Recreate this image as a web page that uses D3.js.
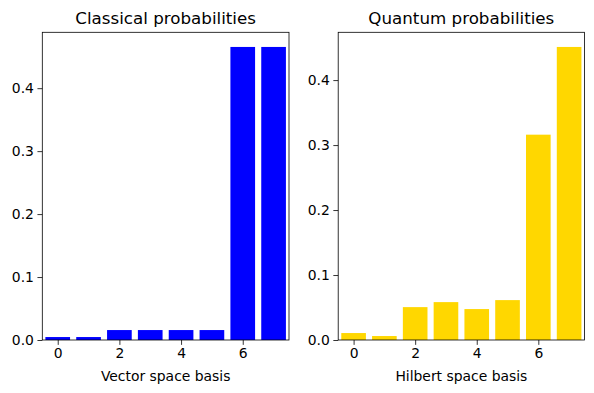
<!DOCTYPE html>
<html>
<head>
<meta charset="utf-8">
<script src="https://cdn.jsdelivr.net/npm/d3@7"></script>
<style>
html,body{margin:0;padding:0;background:#fff;}
svg{display:block;}
text{font-family:"DejaVu Sans",sans-serif;fill:#000;}
</style>
</head>
<body>
<svg id="chart" width="594" height="393"></svg>
<script>
const basis = [0,1,2,3,4,5,6,7];
const classicalValues = [0.0047,0.0047,0.0158,0.0158,0.0158,0.0158,0.4655,0.4655];
const quantumValues = [0.0107,0.0061,0.0506,0.0583,0.0476,0.0614,0.316,0.451];
const xTickValues = [0,2,4,6];
const yTickValues = [0,0.1,0.2,0.3,0.4];
const titles = ["Classical probabilities","Quantum probabilities"];
const xLabels = ["Vector space basis","Hilbert space basis"];
const colors = ["#0000ff","#ffd700"];

const svg = d3.select("#chart");
const panels = [
  {left:42.3, right:289, top:32.3, bottom:340, values:classicalValues},
  {left:338.2, right:584.5, top:32.3, bottom:340, values:quantumValues}
];

panels.forEach((p,i)=>{
  const x = d3.scaleLinear().domain([-0.5,7.5]).range([p.left,p.right]);
  const ymax = d3.max(p.values)*1.05;
  const y = d3.scaleLinear().domain([0,ymax]).range([p.bottom,p.top]);
  const g = svg.append("g");
  g.selectAll("rect.bar").data(p.values).enter().append("rect")
    .attr("class","bar")
    .attr("x",(d,j)=>x(basis[j]-0.4))
    .attr("width",(d,j)=>x(basis[j]+0.4)-x(basis[j]-0.4))
    .attr("y",d=>y(d))
    .attr("height",d=>y(0)-y(d))
    .attr("fill",colors[i]);

  const xAxis = d3.axisBottom(x).tickValues(xTickValues).tickFormat(d3.format("d")).tickSize(4.86).tickPadding(3.5);
  const yAxis = d3.axisLeft(y).tickValues(yTickValues).tickFormat(d3.format(".1f")).tickSize(4.86).tickPadding(3.5);
  const gx = g.append("g").attr("transform",`translate(0,${p.bottom})`).call(xAxis);
  const gy = g.append("g").attr("transform",`translate(${p.left},0)`).call(yAxis);
  [gx,gy].forEach(a=>{
    a.select(".domain").remove();
    a.selectAll("line").attr("stroke","#000").attr("stroke-width",0.8);
    a.selectAll("text").style("font-size","13.9px").style("font-family","DejaVu Sans");
  });
  g.append("rect").attr("x",p.left).attr("y",p.top)
    .attr("width",p.right-p.left).attr("height",p.bottom-p.top)
    .attr("fill","none").attr("stroke","#000").attr("stroke-width",0.8);
  g.append("text").attr("x",(p.left+p.right)/2).attr("y",p.top-8.3)
    .attr("text-anchor","middle").style("font-size","16.7px").text(titles[i]);
  g.append("text").attr("x",(p.left+p.right)/2).attr("y",381)
    .attr("text-anchor","middle").style("font-size","13.9px").text(xLabels[i]);
});
</script>
</body>
</html>
